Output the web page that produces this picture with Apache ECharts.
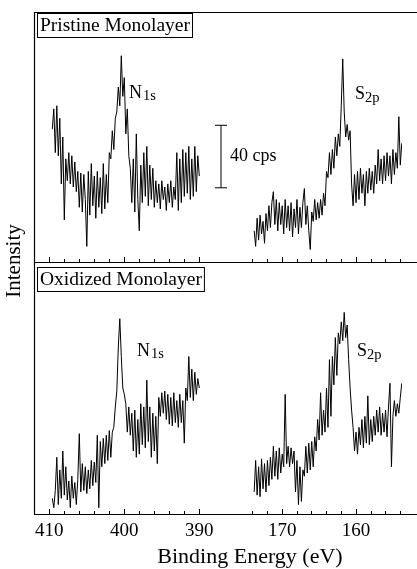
<!DOCTYPE html>
<html>
<head>
<meta charset="utf-8">
<script src="https://cdn.jsdelivr.net/npm/echarts@6/dist/echarts.min.js"></script>
<style>html,body{margin:0;padding:0;background:#fff;}#c{width:417px;height:569px;}</style>
</head>
<body>
<div id="c"></div>
<script>
// ---- data (binding energy in eV, intensity in counts/s, arbitrary offset) ----
const stepE = 0.2;
const n1sStart = 409.6;
const s2pStart = 173.8;
const pristineN1s = [85,98,70,100,68,92,50,80,27,66, 52,70,50,68,48,64,45,58,35,57,
  32,56,40,10,58,30,63,36,55,28, 58,35,54,31,63,34,56,38,70,66,
  84,72,92,96,112,100,132,106,118,82, 98,68,60,38,66,32,82,40,20,62,
  38,70,42,74,36,62,40,60,35,52, 38,50,34,52,40,48,33,50,38,52,
  35,48,40,70,33,66,38,72,42,70, 44,74,40,66,42,74,45,68,55];
const pristineS2p = [20,10,28,14,30,18,26,12,31,20, 36,22,38,45,24,40,20,38,24,36,
  18,40,22,36,20,38,16,34,22,40, 18,35,22,38,47,24,36,20,8,32,
  26,40,27,38,28,40,30,44,36,58, 54,70,56,72,60,80,68,82,74,100,
  130,96,80,88,78,84,50,36,56,38, 58,40,60,44,56,36,58,44,60,46,
  58,44,62,50,72,52,66,50,68,52, 70,55,68,50,72,56,70,60,93,62, 76];
const oxidizedN1s = [10,4,15,36,6,28,10,40,12,30, 9,21,4,24,10,20,6,22,51,14,
  32,15,30,13,28,16,34,18,33,20, 50,4,46,30,48,32,50,34,53,36,
  52,55,68,78,106,124,100,80,76,70, 52,68,50,64,40,66,36,60,38,70,
  44,68,42,85,46,68,36,64,40,62, 32,74,62,77,64,78,60,76,57,74,
  56,77,58,72,55,76,58,72,45,80, 72,100,74,92,72,90,76,86,80];
const oxidizedS2p = [14,34,12,30,11,35,16,32,14,34, 18,36,22,43,24,40,22,42,26,38,
  30,76,32,43,30,42,32,40,14,34, 6,30,8,28,24,43,26,45,28,46,
  30,49,40,60,47,77,50,66,52,80, 55,98,62,100,82,112,88,115,108,122,
  110,128,112,120,98,80,66,55,40,52, 38,55,44,60,42,62,45,75,44,60,
  46,62,50,66,52,68,50,64,52,66, 49,68,83,30,62,72,62,70,64,74, 83];
const leftMajorTicks = [390,400,410];
const leftMinorTicks = [390,392,394,396,398,400,402,404,406,408,410];
const rightMajorTicks = [160,170];
const rightMinorTicks = [154,156,158,160,162,164,166,168,170,172,174];
const scaleBar = [47.5, 87.5]; // 40 cps

const SERIF = "'Liberation Serif', 'Times New Roman', serif";
function toPairs(start, vals){ return vals.map((v,i)=>[+(start - i*stepE).toFixed(2), v]); }

const chart = echarts.init(document.getElementById('c'), null, {renderer:'canvas'});
const grids = [
  {left:49.3, width:150, top:12, height:250},
  {left:252.7, width:147.6, top:12, height:250},
  {left:49.3, width:150, top:262, height:252},
  {left:252.7, width:147.6, top:262, height:252}
];
const xAxes = [];
grids.forEach((g,i)=>{
  const left = (i%2===0);
  const bottom = (i>=2);
  const mn = left?390:154, mx = left?410:174;
  xAxes.push({type:'value', gridIndex:i, min:mn, max:mx, inverse:true, position:'bottom', offset:0,
    axisLine:{show:false}, splitLine:{show:false},
    axisTick:{show:true, inside:true, length:5, lineStyle:{color:'#000', width:1}, customValues: left?leftMajorTicks:rightMajorTicks},
    axisLabel:{show:bottom, margin:8, color:'#000', fontFamily:SERIF, fontSize:19, customValues: left?leftMajorTicks:rightMajorTicks}});
  xAxes.push({type:'value', gridIndex:i, min:mn, max:mx, inverse:true, position:'bottom', offset:0,
    axisLine:{show:false}, splitLine:{show:false},
    axisTick:{show:true, inside:true, length:3, lineStyle:{color:'#000', width:1}, customValues: left?leftMinorTicks:rightMinorTicks},
    axisLabel:{show:false}});
});
const yAxes = grids.map((g,i)=>({type:'value', gridIndex:i, min:0, max:160, show:false}));
const sets = [pristineN1s, pristineS2p, oxidizedN1s, oxidizedS2p];
const starts = [n1sStart, s2pStart, n1sStart, s2pStart];
const series = sets.map((vals,i)=>({type:'line', xAxisIndex:i*2, yAxisIndex:i, data:toPairs(starts[i], vals),
  showSymbol:false, symbol:'none', lineStyle:{color:'#000', width:1}, silent:true}));

function txt(text, x, y, size, extra){
  return {type:'text', silent:true, style:Object.assign({text:text, x:x, y:y, font: size+'px '+SERIF, fill:'#000'}, extra||{})};
}
function line(x1,y1,x2,y2,w){ return {type:'line', silent:true, shape:{x1,y1,x2,y2}, style:{stroke:'#000', lineWidth:w||1}}; }

chart.setOption({
  animation:false,
  backgroundColor:'#fff',
  grid: grids,
  xAxis: xAxes,
  yAxis: yAxes,
  series: series
});

const yTop = chart.convertToPixel({yAxisIndex:1}, scaleBar[1]);
const yBot = chart.convertToPixel({yAxisIndex:1}, scaleBar[0]);

const graphics = [
  line(34.5,12,34.5,514,1.2),
  line(34,12.5,417,12.5,1.2),
  line(34,262.5,417,262.5,1.2),
  line(34,514.5,417,514.5,1.2),
  txt('Pristine Monolayer', 38, 14, 19.5, {backgroundColor:'#fff', borderColor:'#000', borderWidth:1, padding:[2,2,1,2]}),
  txt('Oxidized Monolayer', 38, 268, 19.5, {backgroundColor:'#fff', borderColor:'#000', borderWidth:1, padding:[2,2,1,2]}),
  txt('N', 129, 84, 18, {textVerticalAlign:'alphabetic'}),
  txt('1s', 143, 89, 14.5, {textVerticalAlign:'alphabetic'}),
  txt('S', 355, 85, 18, {textVerticalAlign:'alphabetic'}),
  txt('2p', 365, 91, 14.5, {textVerticalAlign:'alphabetic'}),
  txt('N', 137, 342, 18, {textVerticalAlign:'alphabetic'}),
  txt('1s', 151, 347, 14.5, {textVerticalAlign:'alphabetic'}),
  txt('S', 357, 342, 18, {textVerticalAlign:'alphabetic'}),
  txt('2p', 367, 348, 14.5, {textVerticalAlign:'alphabetic'}),
  line(221, yTop, 221, yBot, 1),
  line(215, yTop, 227, yTop, 1),
  line(215, yBot, 227, yBot, 1),
  txt('40 cps', 230, (yTop+yBot)/2, 18, {textVerticalAlign:'middle'}),
  {type:'text', silent:true, x:14, y:261, rotation:Math.PI/2, style:{text:'Intensity', x:0, y:0, font:'21px '+SERIF, fill:'#000', textAlign:'center', textVerticalAlign:'middle'}},
  txt('Binding Energy (eV)', 250, 557, 22, {textAlign:'center', textVerticalAlign:'middle'})
];
chart.setOption({graphic: graphics});
</script>
</body>
</html>
